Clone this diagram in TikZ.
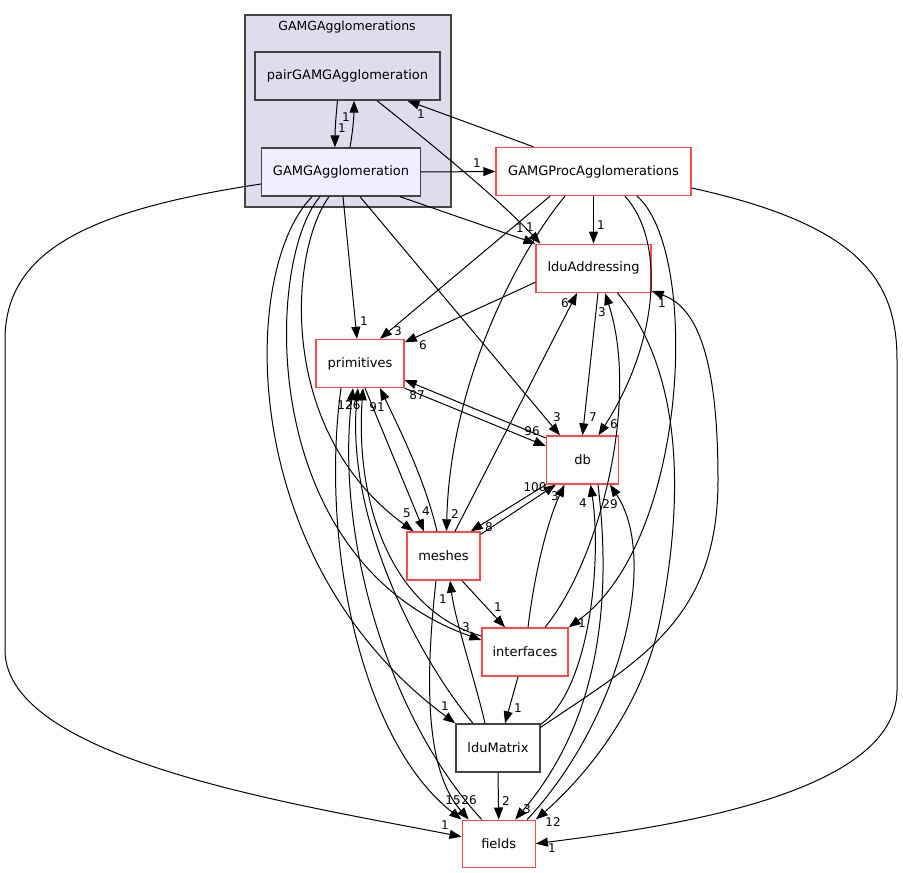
\documentclass[tikz,border=0pt]{standalone}
\usepackage{fontspec}
\setmainfont{DejaVu Sans}
\usetikzlibrary{arrows.meta}
\definecolor{clfill}{HTML}{DDDDEE}
\definecolor{gfill}{HTML}{EEEEFF}
\definecolor{redb}{HTML}{FF4B4B}
\definecolor{darkb}{HTML}{444444}
\tikzset{
  box/.style={draw=redb, line width=1.4pt, fill=white, minimum height=48pt, inner sep=0pt, font=\fontsize{13}{15}\selectfont},
  dbox/.style={box, draw=darkb},
  edge/.style={draw=black, line width=1pt, -{Triangle[length=12pt,width=9pt]}},
  lbl/.style={inner sep=0pt, font=\fontsize{12}{13}\selectfont}
}
\begin{document}
\begin{tikzpicture}[x=1pt,y=-1pt]
\useasboundingbox (0,0) rectangle (903,873);
% cluster
\node[draw=darkb, line width=1.2pt, fill=clfill, minimum width=206pt, minimum height=192pt, inner sep=0pt] (clu) at (348,111) {};
\node[lbl, font=\fontsize{12.5}{14}\selectfont] (clulbl) at (347,27) {GAMGAgglomerations};
% nodes
\node[dbox, fill=clfill, minimum width=185pt] (pair) at (347.5,76) {pairGAMGAgglomeration};
\node[dbox, fill=gfill, minimum width=159pt] (GAMG) at (341,172) {GAMGAgglomeration};
\node[box, minimum width=195pt] (proc) at (593.5,171.5) {GAMGProcAgglomerations};
\node[box, minimum width=115pt] (lduA) at (593.5,268.3) {lduAddressing};
\node[box, minimum width=88pt] (prim) at (360,363.5) {primitives};
\node[box, minimum width=72pt] (db) at (582.5,460) {db};
\node[box, minimum width=73pt] (meshes) at (443.5,556) {meshes};
\node[box, minimum width=86pt] (interfaces) at (525,652) {interfaces};
\node[dbox, minimum width=84pt] (lduMatrix) at (498,748) {lduMatrix};
\node[box, minimum width=73pt, minimum height=47pt] (fields) at (498.7,843.7) {fields};
% edges
\draw[edge] ([xshift=-10pt]pair.south) .. controls (336,115) and (335,130) .. ([xshift=-6pt]GAMG.north);
\draw[edge] ([xshift=9pt]GAMG.north) .. controls (353,130) and (354,115) .. ([xshift=6.5pt]pair.south);
\draw[edge] (GAMG.east) -- (proc.west);
\draw[edge] ([xshift=-60pt]proc.north) -- ([xshift=60pt]pair.south);
\draw[edge] ([xshift=29.5pt]pair.south) .. controls (420,135) and (495,195) .. ([xshift=-53pt]lduA.north);
\draw[edge] ([xshift=59pt]GAMG.south) -- ([xshift=-58pt]lduA.north);
\draw[edge] (proc.south) -- (lduA.north);
\draw[edge] ([xshift=-43.5pt]proc.south) -- ([xshift=20pt]prim.north);
\draw[edge] ([xshift=-28.5pt]proc.south) .. controls (520,250) and (450,380) .. ([xshift=3pt]meshes.north);
\draw[edge] ([xshift=31.5pt]proc.south) .. controls (665,240) and (660,340) .. ([xshift=16pt]db.north);
\draw[edge] ([xshift=43.5pt]proc.south) .. controls (700,250) and (690,540) .. (interfaces.north east);
\draw[edge] ([yshift=-16.5pt]proc.east) .. controls (860,225) and (897,280) .. (897,360) -- (897,690) .. controls (897,800) and (640,830) .. (fields.east);
\draw[edge] ([yshift=-12pt]GAMG.west) .. controls (90,210) and (5,250) .. (5,340) -- (5,650) .. controls (5,760) and (300,805) .. ([yshift=7pt]fields.west);
\draw[edge] ([xshift=2pt]GAMG.south) -- ([xshift=-3pt]prim.north);
\draw[edge] ([xshift=19pt]GAMG.south) -- ([xshift=-22.5pt]db.north);
\draw[edge] ([xshift=-12pt]GAMG.south) .. controls (290,250) and (275,430) .. ([xshift=-30pt]meshes.north);
\draw[edge] ([xshift=-21pt]GAMG.south) .. controls (265,260) and (255,560) .. ([yshift=12pt]interfaces.west);
\draw[edge] ([xshift=-29pt]GAMG.south) .. controls (240,270) and (235,560) .. (lduMatrix.north west);
\draw[edge] ([yshift=-14pt]lduA.west) -- ([yshift=-3.5pt]prim.north east);
\draw[edge] ([xshift=4.5pt]lduA.south) -- (db.north);
\draw[edge] ([xshift=24pt]lduA.south) .. controls (690,380) and (680,520) .. (660,620) .. controls (640,720) and (570,790) .. (fields.north east);
\draw[edge] (prim.south east) -- ([yshift=14pt]db.west);
\draw[edge] ([yshift=22pt]db.west) -- ([yshift=-16.5pt]prim.east);
\draw[edge] ([xshift=5pt]prim.south) -- ([xshift=-19.5pt]meshes.north);
\draw[edge] ([xshift=-6.5pt]meshes.north) .. controls (425,480) and (400,430) .. ([xshift=20pt]prim.south);
\draw[edge] ([yshift=-3pt]meshes.north east) -- ([xshift=10pt]db.south west);
\draw[edge] (db.south west) -- ([xshift=-10pt]meshes.north east);
\draw[edge] ([xshift=11.5pt]meshes.north) -- ([xshift=-16.5pt]lduA.south);
\draw[edge] ([xshift=18.5pt]meshes.south) -- ([xshift=-20pt]interfaces.north);
\draw[edge] ([xshift=-13pt]lduMatrix.north) .. controls (475,680) and (455,620) .. ([xshift=6.5pt]meshes.south);
\draw[edge] ([xshift=-7.5pt]meshes.south) .. controls (425,680) and (425,770) .. ([xshift=-30pt]fields.north);
\draw[edge] ([xshift=-7pt]interfaces.south) -- ([xshift=7pt]lduMatrix.north);
\draw[edge] ([xshift=3pt]interfaces.north) .. controls (535,570) and (548,520) .. ([xshift=-18pt]db.south);
\draw[edge] ([xshift=20pt]interfaces.north) .. controls (600,560) and (640,400) .. ([xshift=11.5pt]lduA.south);
\draw[edge] ([yshift=16pt]interfaces.west) .. controls (390,610) and (355,500) .. ([xshift=3pt]prim.south);
\draw[edge] ([xshift=-25pt]lduMatrix.north) .. controls (420,660) and (345,520) .. ([xshift=-2pt]prim.south);
\draw[edge] (lduMatrix.south) -- (fields.north);
\draw[edge] ([yshift=-1pt]lduMatrix.north east) .. controls (590,690) and (602,560) .. ([xshift=8pt]db.south);
\draw[edge] ([yshift=-4pt]lduMatrix.north east) .. controls (640,660) and (718,620) .. (718,480) .. controls (718,340) and (690,305) .. ([yshift=2pt]lduA.south east);
\draw[edge] ([xshift=15.5pt]db.south) .. controls (612,600) and (600,720) .. ([xshift=16.5pt]fields.north);
\draw[edge] ([xshift=28.5pt]fields.north) .. controls (620,720) and (660,560) .. ([xshift=27.5pt]db.south);
\draw[edge] ([xshift=-17pt]fields.north) .. controls (390,720) and (335,540) .. ([xshift=-7pt]prim.south);
\draw[edge] ([xshift=-19pt]prim.south) .. controls (320,540) and (360,740) .. (fields.north west);
% labels
\node[lbl] (l1) at (346,117) {1};
\node[lbl] (l2) at (342,128) {1};
\node[lbl] (l3) at (477,163) {1};
\node[lbl] (l4) at (421,114) {1};
\node[lbl] (l5) at (520,228) {1};
\node[lbl] (l6) at (530,227) {1};
\node[lbl] (l7) at (601,225) {1};
\node[lbl] (l8) at (398,331) {3};
\node[lbl] (l9) at (455,514) {2};
\node[lbl] (l10) at (614,424) {6};
\node[lbl] (l11) at (582,623) {1};
\node[lbl] (l12) at (552,848) {1};
\node[lbl] (l13) at (445,825) {1};
\node[lbl] (l14) at (364,321) {1};
\node[lbl] (l15) at (557,417) {3};
\node[lbl] (l16) at (407,513) {5};
\node[lbl] (l17) at (466,627) {3};
\node[lbl] (l18) at (445,706) {1};
\node[lbl] (l19) at (423,345) {6};
\node[lbl] (l20) at (593,417) {7};
\node[lbl] (l21) at (553,822) {12};
\node[lbl] (l22) at (532,431) {96};
\node[lbl] (l23) at (417,395) {87};
\node[lbl] (l24) at (426,511) {4};
\node[lbl] (l25) at (377,407) {91};
\node[lbl] (l26) at (535,487) {100};
\node[lbl] (l27) at (489,527) {8};
\node[lbl] (l28) at (565,303) {6};
\node[lbl] (l29) at (498,607) {1};
\node[lbl] (l30) at (443,599) {1};
\node[lbl] (l31) at (469,800) {26};
\node[lbl] (l32) at (518,708) {1};
\node[lbl] (l33) at (555,496) {3};
\node[lbl] (l34) at (602,312) {3};
\node[lbl] (l35) at (345,405) {12};
\node[lbl] (l36) at (353,405) {26};
\node[lbl] (l37) at (506,801) {2};
\node[lbl] (l38) at (583,503) {4};
\node[lbl] (l39) at (662,303) {1};
\node[lbl] (l40) at (527,809) {3};
\node[lbl] (l41) at (610,504) {29};
\node[lbl] (l42) at (453,800) {15};
\end{tikzpicture}
\end{document}
